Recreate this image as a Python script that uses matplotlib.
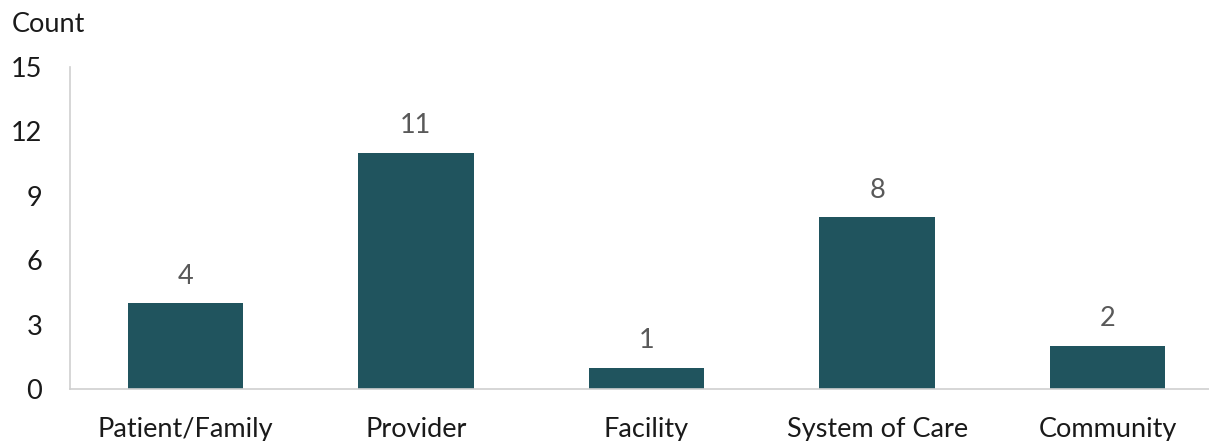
import matplotlib
matplotlib.use("Agg")
import matplotlib.pyplot as plt

categories = ["Patient/Family", "Provider", "Facility", "System of Care", "Community"]
counts = [4, 11, 1, 8, 2]
yticks = [0, 3, 6, 9, 12, 15]

plt.rcParams['font.family'] = ['Lato', 'DejaVu Sans']

fig = plt.figure(figsize=(12.09, 4.41), dpi=100)
ax = fig.add_axes([70/1209, 1-389/441, 1153/1209, 322/441])

x = list(range(len(categories)))
bars = ax.bar(x, counts, width=0.5, color="#20545E")
ax.set_xlim(-0.5, len(categories) - 0.5)
ax.set_ylim(0, 15)
ax.set_yticks(yticks)
ax.set_yticklabels([str(t) for t in yticks], fontsize=19.5, color="#1a1a1a")
ax.set_xticks(x)
ax.set_xticklabels(categories, fontsize=19.5, color="#1a1a1a")
ax.tick_params(axis='y', length=0, pad=20)
ax.tick_params(axis='x', length=0, pad=20.5)

for s in ["top", "right"]:
    ax.spines[s].set_visible(False)
for s in ["left", "bottom"]:
    ax.spines[s].set_color("#CFCFCF")
    ax.spines[s].set_linewidth(1.2)
ax.spines["bottom"].set_clip_on(False)

for xi, v in zip(x, counts):
    ax.annotate(str(v), (xi, v), xytext=(0, 10.5), textcoords="offset points",
                ha="center", va="bottom", fontsize=19.5, color="#595959")

fig.text(12/1209, 1-25/441, "Count", fontsize=19.5, color="#1a1a1a", va="center", ha="left")

fig.savefig("out.png", dpi=100)
